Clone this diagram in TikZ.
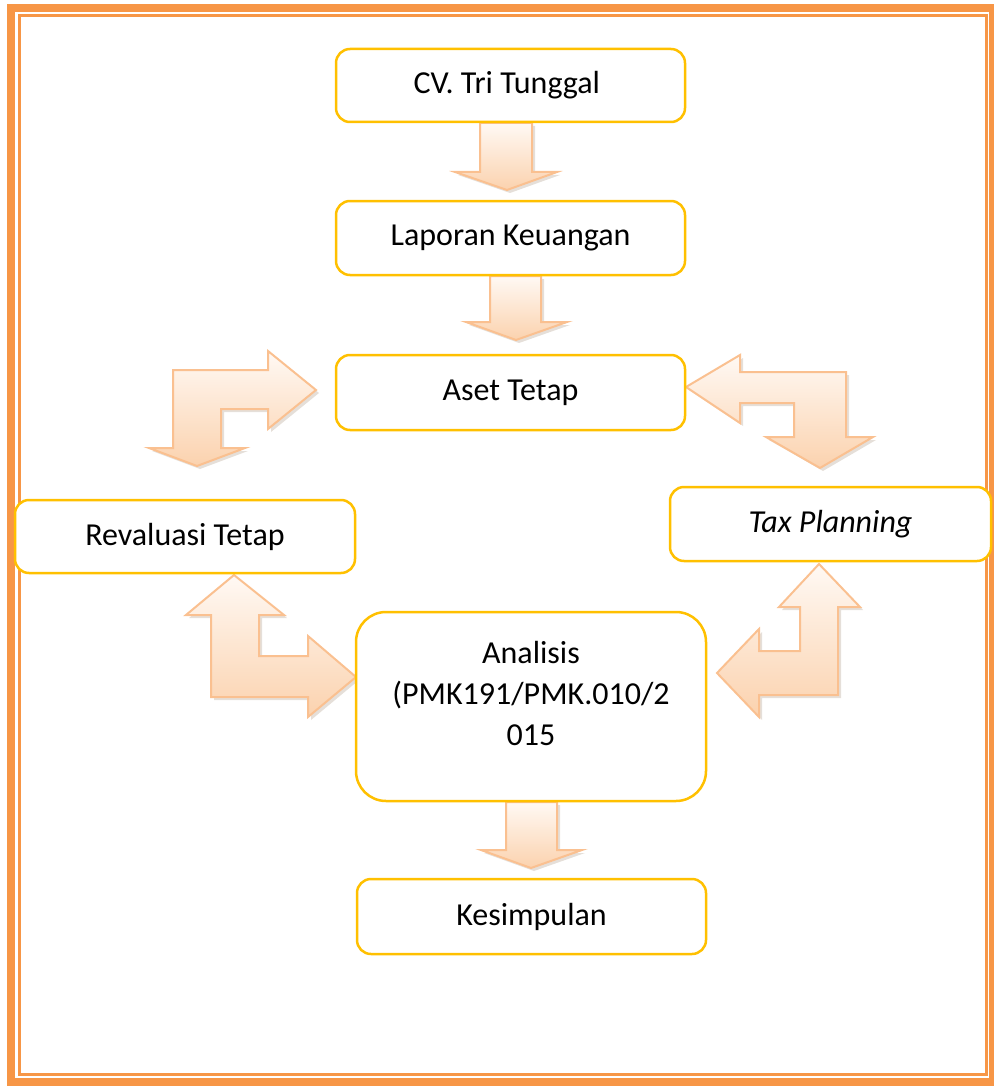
\documentclass[tikz,border=0pt]{standalone}
\usepackage{fontspec}
\setmainfont{Carlito}
\usetikzlibrary{shapes,arrows,positioning,calc,shadows}

\definecolor{pageorange}{HTML}{F79646}
\definecolor{boxgold}{HTML}{FFC000}
\definecolor{arrowline}{HTML}{FAC090}
\definecolor{arrowtop}{HTML}{FFF9F4}
\definecolor{arrowbottom}{HTML}{FBD2AE}

\tikzset{
    flowbox/.style={draw=boxgold, line width=2.5pt, fill=white, rounded corners=14pt,
        inner sep=0pt, align=center, font=\fontsize{32}{41}\selectfont},
    blockarrow/.style={draw=arrowline, line width=2pt, top color=arrowtop, bottom color=arrowbottom,
        drop shadow={shadow xshift=3pt, shadow yshift=-3pt, fill=gray!60!brown, opacity=0.25}}
}

\begin{document}
\begin{tikzpicture}[x=1pt, y=-1pt]
    \useasboundingbox (0,0) rectangle (993,1086);

    % Page border
    \draw[pageorange, line width=8pt] (11,8.5) rectangle (993,1082);
    \draw[pageorange, line width=3pt] (19.5,16) rectangle (986,1074);

    % Block arrows
    \draw[blockarrow] (480,123) -- (480,172) -- (455,172) -- (507,190) -- (557,172) -- (532,172) -- (532,123) -- cycle;
    \draw[blockarrow] (490,276) -- (490,322) -- (466,322) -- (516,340) -- (567,322) -- (541,322) -- (541,276) -- cycle;
    \draw[blockarrow] (506,802) -- (506,850) -- (481,850) -- (531,868) -- (582,850) -- (557,850) -- (557,802) -- cycle;

    \draw[blockarrow] (149,448) -- (173,448) -- (173,370) -- (268,370) -- (268,351) -- (316,390)
        -- (268,429) -- (268,409) -- (221,409) -- (221,448) -- (245,448) -- (197,466) -- cycle;
    \draw[blockarrow] (686,387) -- (740,355) -- (740,372) -- (846,372) -- (846,437) -- (873,437)
        -- (820,468) -- (766,437) -- (794,437) -- (794,403) -- (740,403) -- (740,423) -- cycle;
    \draw[blockarrow] (234,575) -- (284,615) -- (259,615) -- (259,656) -- (308,656) -- (308,636)
        -- (356,677) -- (308,717) -- (308,697) -- (211,697) -- (211,615) -- (186,615) -- cycle;
    \draw[blockarrow] (819,564) -- (860,607) -- (838,607) -- (838,695) -- (759,695) -- (759,717)
        -- (717,673) -- (759,629) -- (759,651) -- (800,651) -- (800,607) -- (779,607) -- cycle;

    % Boxes
    \node[flowbox, minimum width=349, minimum height=73] (cv) at (510.5,85.5) {CV. Tri Tunggal~};
    \node[flowbox, minimum width=349, minimum height=74] (laporan) at (510.5,238) {Laporan Keuangan};
    \node[flowbox, minimum width=349, minimum height=75] (aset) at (510.5,392.5) {Aset Tetap};
    \node[flowbox, minimum width=340, minimum height=73] (revaluasi) at (185,536.5) {Revaluasi Tetap};
    \node[flowbox, minimum width=321, minimum height=74] (tax) at (830.5,524) {\textit{Tax Planning}};
    \node[flowbox, rounded corners=30pt, minimum width=350, minimum height=189] (analisis) at (531,706.5) {};
    \node[align=center, font=\fontsize{32}{41}\selectfont] (analisistext) at ([yshift=13]analisis.center)
        {Analisis\\(PMK191/PMK.010/2\\015};
    \node[flowbox, minimum width=349, minimum height=75] (kesimpulan) at (531.5,916.5) {Kesimpulan};
\end{tikzpicture}
\end{document}
